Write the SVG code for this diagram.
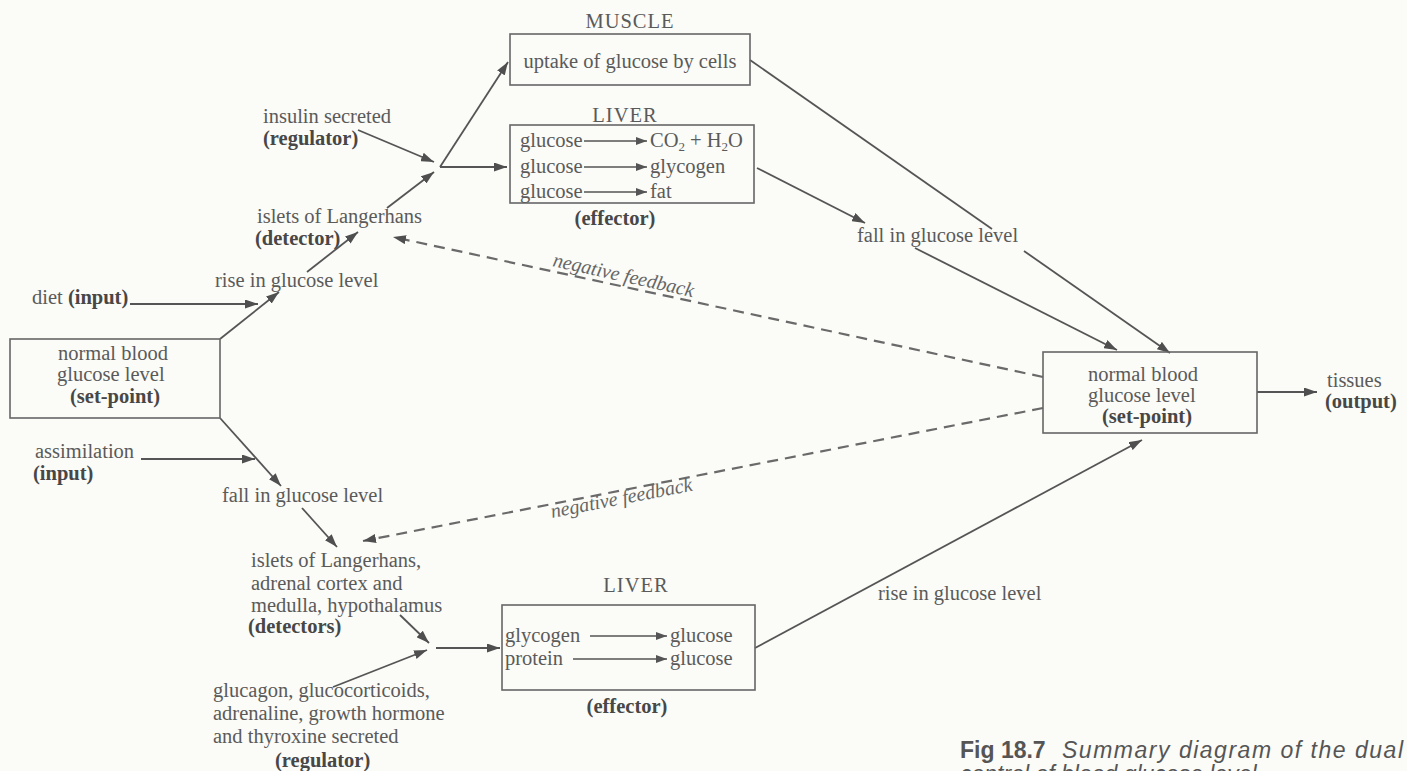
<svg xmlns="http://www.w3.org/2000/svg" width="1407" height="771" viewBox="0 0 1407 771">
  <defs>
    <marker id="ah" viewBox="0 0 13 9" refX="13" refY="4.5" markerWidth="13" markerHeight="9" markerUnits="userSpaceOnUse" orient="auto">
      <path d="M0,0 L13,4.5 L0,9 z" fill="#4f4f4f"/>
    </marker>
    <marker id="ahs" viewBox="0 0 11 8" refX="11" refY="4" markerWidth="11" markerHeight="8" markerUnits="userSpaceOnUse" orient="auto">
      <path d="M0,0 L11,4 L0,8 z" fill="#555"/>
    </marker>
    <style>
      .t { font-family: "Liberation Serif", "Times New Roman", serif; font-size: 20.5px; fill: #5a5a5a; }
      .b { font-weight: bold; fill: #474747; }
      .m { text-anchor: middle; }
      .i { font-style: italic; font-size: 20px; fill: #666; }
      .box { fill: none; stroke: #666; stroke-width: 1.6; }
      .c { fill: none; stroke: #555; stroke-width: 1.8; marker-end: url(#ah); }
      .s { fill: none; stroke: #555; stroke-width: 1.4; marker-end: url(#ahs); }
      .n { fill: none; stroke: #555; stroke-width: 1.8; }
      .d { fill: none; stroke: #6a6a6a; stroke-width: 2.2; stroke-dasharray: 11 7; marker-end: url(#ah); }
      .cap { font-family: "Liberation Sans", Arial, sans-serif; font-size: 23px; fill: #555; }
    </style>
  </defs>

  <rect width="1407" height="771" fill="#fbfbf7"/>

  <!-- connectors -->
  <g id="connectors">
    <path class="c" d="M130,304 L258,304"/>
    <path class="c" d="M220,339 L279,292"/>
    <path class="c" d="M141,459 L255,459"/>
    <path class="c" d="M220,418 L281,486"/>
    <path class="c" d="M307,272 L358,232"/>
    <path class="c" d="M358,130 L434,162"/>
    <path class="c" d="M387,208 L434,172"/>
    <path class="c" d="M440,167 L508,62"/>
    <path class="c" d="M440,167 L507,167"/>
    <path class="n" d="M750,60 L992,229"/>
    <path class="c" d="M1024,251 L1170,353"/>
    <path class="c" d="M757,168 L865,223"/>
    <path class="c" d="M915,248 L1117,350"/>
    <path class="d" d="M1043,377 L393,237"/>
    <path class="d" d="M1043,408 L363,541"/>
    <path class="c" d="M302,508 L337,547"/>
    <path class="c" d="M400,615 L429,643"/>
    <path class="c" d="M333,687 L427,650"/>
    <path class="c" d="M436,648 L500,648"/>
    <path class="c" d="M755,648 L1142,440"/>
    <path class="c" d="M1257,392 L1317,392"/>
  </g>

  <!-- set-point (left) -->
  <g id="setpoint-left">
    <rect class="box" x="10" y="339" width="210" height="79"/>
    <text class="t" x="58" y="360">normal blood</text>
    <text class="t" x="57" y="381">glucose level</text>
    <text class="t b" x="70" y="403">(set-point)</text>
  </g>

  <g id="diet">
    <text class="t" x="32" y="304">diet <tspan class="b">(input)</tspan></text>
  </g>

  <g id="assimilation">
    <text class="t" x="35" y="458">assimilation</text>
    <text class="t b" x="33" y="480">(input)</text>
  </g>

  <g id="rise-upper">
    <text class="t" x="215" y="287">rise in glucose level</text>
  </g>

  <g id="islets-upper">
    <text class="t" x="257" y="223">islets of Langerhans</text>
    <text class="t b" x="255" y="245">(detector)</text>
  </g>

  <g id="insulin">
    <text class="t" x="263" y="123">insulin secreted</text>
    <text class="t b" x="263" y="145">(regulator)</text>
  </g>

  <g id="muscle">
    <text class="t m" x="630" y="28" letter-spacing="1">MUSCLE</text>
    <rect class="box" x="510" y="34" width="240" height="51"/>
    <text class="t m" x="630" y="68">uptake of glucose by cells</text>
  </g>

  <g id="liver-upper">
    <text class="t m" x="625" y="122" letter-spacing="1">LIVER</text>
    <rect class="box" x="510" y="125" width="244" height="78"/>
    <text class="t" x="520" y="147">glucose</text>
    <path class="s" d="M584,141 L647,141"/>
    <text class="t" x="650" y="147">CO<tspan font-size="13" dy="4">2</tspan><tspan dy="-4"> + H</tspan><tspan font-size="13" dy="4">2</tspan><tspan dy="-4">O</tspan></text>
    <text class="t" x="520" y="173">glucose</text>
    <path class="s" d="M584,167 L647,167"/>
    <text class="t" x="650" y="173">glycogen</text>
    <text class="t" x="520" y="198">glucose</text>
    <path class="s" d="M584,192 L647,192"/>
    <text class="t" x="650" y="198">fat</text>
    <text class="t b m" x="615" y="225">(effector)</text>
  </g>

  <g id="fall-upper">
    <text class="t" x="857" y="242">fall in glucose level</text>
  </g>

  <g id="setpoint-right">
    <rect class="box" x="1043" y="352" width="214" height="81"/>
    <text class="t" x="1088" y="381">normal blood</text>
    <text class="t" x="1088" y="402">glucose level</text>
    <text class="t b" x="1102" y="423">(set-point)</text>
  </g>

  <g id="tissues">
    <text class="t" x="1327" y="387">tissues</text>
    <text class="t b" x="1325" y="408">(output)</text>
  </g>

  <g id="feedback-labels">
    <text class="t i" transform="translate(552,266) rotate(12.5)">negative feedback</text>
    <text class="t i" transform="translate(552,518) rotate(-11)">negative feedback</text>
  </g>

  <g id="fall-lower">
    <text class="t" x="222" y="502">fall in glucose level</text>
  </g>

  <g id="detectors">
    <text class="t" x="251" y="567">islets of Langerhans,</text>
    <text class="t" x="251" y="590">adrenal cortex and</text>
    <text class="t" x="251" y="612">medulla, hypothalamus</text>
    <text class="t b" x="248" y="633">(detectors)</text>
  </g>

  <g id="glucagon">
    <text class="t" x="213" y="697">glucagon, glucocorticoids,</text>
    <text class="t" x="213" y="720">adrenaline, growth hormone</text>
    <text class="t" x="213" y="743">and thyroxine secreted</text>
    <text class="t b" x="275" y="767">(regulator)</text>
  </g>

  <g id="liver-lower">
    <text class="t m" x="636" y="592" letter-spacing="1">LIVER</text>
    <rect class="box" x="502" y="605" width="253" height="85"/>
    <text class="t" x="505" y="642">glycogen</text>
    <path class="s" d="M590,636 L667,636"/>
    <text class="t" x="670" y="642">glucose</text>
    <text class="t" x="505" y="665">protein</text>
    <path class="s" d="M573,659 L667,659"/>
    <text class="t" x="670" y="665">glucose</text>
    <text class="t b m" x="627" y="713">(effector)</text>
  </g>

  <g id="rise-lower">
    <text class="t" x="878" y="600">rise in glucose level</text>
  </g>

  <g id="caption">
    <text class="cap" x="960" y="758"><tspan font-weight="bold">Fig 18.7</tspan></text>
    <text class="cap" x="1062" y="758" font-style="italic" textLength="341">Summary diagram of the dual</text>
    <text class="cap" x="960" y="782" font-style="italic">control of blood glucose level</text>
  </g>
</svg>
